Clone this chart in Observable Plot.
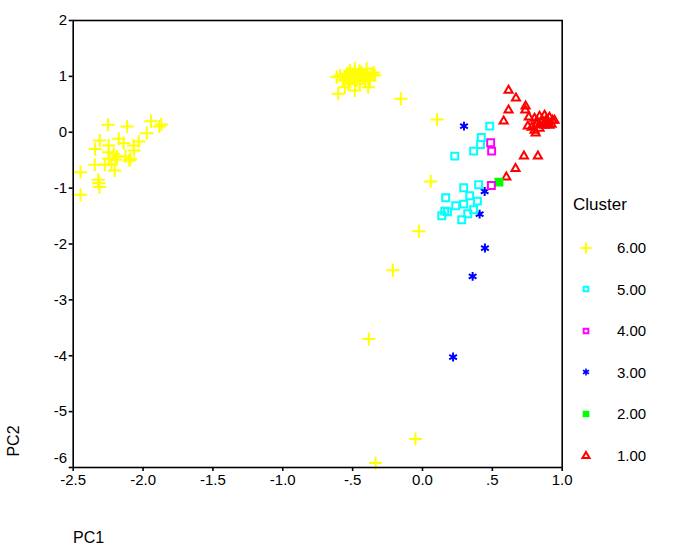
<!DOCTYPE html>
<html><head><meta charset="utf-8">
<script src="https://cdn.jsdelivr.net/npm/d3@7"></script>
<script src="https://cdn.jsdelivr.net/npm/@observablehq/plot@0.6"></script>
<style>
html,body{margin:0;padding:0;background:#fff;}
body{font-family:"Liberation Sans",Arial,sans-serif;color:#000;}
#wrap{position:relative;width:694px;height:550px;overflow:hidden;}
.lbl{position:absolute;font-size:16px;white-space:nowrap;line-height:1;}
#pc2{left:14px;top:441px;transform:translate(-50%,-50%) rotate(-90deg);}
#pc1{left:73px;top:538px;transform:translate(0,-50%);}
#legtitle{position:absolute;left:573px;top:204px;transform:translate(0,-50%);font-size:17px;line-height:1;}
.legrow{position:absolute;left:578px;height:20px;display:flex;align-items:center;transform:translate(0,-50%);}
.legrow svg{width:16px;height:16px;}
.legrow span{position:absolute;left:39px;font-size:15px;line-height:1;}
</style></head>
<body><div id="wrap"></div>
<script>
// ---- data ----
const clusterNames = ["6.00","5.00","4.00","3.00","2.00","1.00"];
const clusterColors = ["#ffff00","#00ffff","#ff00ff","#0000ff","#00ff00","#ff0000"];
const clusterSymbols = ["plus","square","square","asterisk","square","triangle"];

const c6x = [-2.25,-2.114,-1.943,-1.869,-1.884,-1.974,-2.174,-2.31,-2.031,-2.139,-2.246,-2.067,-2.343,-2.064,-2.246,-2.21,-2.186,-2.126,-2.246,-2.091,-2.198,-2.098,-2.346,-2.274,-2.226,-2.203,-2.448,-2.321,-2.317,-2.312,-2.448,
  -0.59,-0.614,-0.519,-0.484,-0.46,-0.4,-0.364,-0.341,-0.412,-0.448,-0.519,-0.555,-0.484,-0.603,-0.389,-0.555,-0.496,-0.436,-0.424,-0.471,-0.507,-0.376,-0.531,-0.448,-0.4,
  -0.47,-0.43,-0.5,-0.54,-0.38,-0.45,-0.52,-0.41,-0.35,-0.57,
  -0.155,0.104,0.059,-0.026,-0.212,-0.384,-0.05,-0.336];
const c6y = [0.134,0.104,0.199,0.140,0.104,-0.016,-0.116,-0.147,-0.165,-0.195,-0.236,-0.236,-0.302,-0.326,-0.356,-0.385,-0.433,-0.433,-0.474,-0.474,-0.492,-0.504,-0.581,-0.581,-0.576,-0.683,-0.714,-0.850,-0.911,-0.982,-1.118,
  1.016,0.986,1.106,1.136,1.016,1.136,1.046,1.016,0.927,0.867,0.927,0.807,0.748,0.689,0.807,0.986,1.016,1.075,0.986,0.927,1.046,0.927,0.867,0.957,1.016,
  1.0,1.03,0.96,1.05,0.98,1.1,0.9,0.95,1.07,0.93,
  0.60,0.229,-0.88,-1.77,-2.47,-3.70,-5.49,-5.92];

const c5x = [0.481,0.421,0.416,0.366,0.231,0.402,0.295,0.166,0.338,0.393,0.238,0.295,0.179,0.138,0.324,0.366,0.281,0.159];
const c5y = [0.109,-0.093,-0.218,-0.338,-0.428,-0.94,-0.993,-1.172,-1.136,-1.233,-1.315,-1.286,-1.422,-1.494,-1.458,-1.386,-1.565,-1.411];

const c4x = [0.488,0.495,0.493];
const c4y = [-0.188,-0.338,-0.952];

const c3x = [0.297,0.445,0.409,0.447,0.359,0.219];
const c3y = [0.109,-1.059,-1.465,-2.073,-2.58,-4.023];

const c2x = [0.547];
const c2y = [-0.893];

const c1x = [0.616,0.669,0.738,0.616,0.736,0.581,0.761,0.754,0.81,0.726,0.826,0.666,0.6,
  0.802,0.838,0.874,0.909,0.931,0.895,0.852,0.816,0.781,0.874,0.909,0.945,0.838,0.802,0.888,0.924,0.86,0.82,0.9,0.84];
const c1y = [0.748,0.61,0.467,0.395,0.395,0.199,0.27,0.109,-0.016,-0.428,-0.428,-0.653,-0.803,
  0.247,0.283,0.301,0.265,0.211,0.193,0.175,0.14,0.086,0.122,0.122,0.211,0.068,0.032,0.229,0.14,0.2,0.2,0.16,0.13];

const xTicks = [-2.5,-2.0,-1.5,-1.0,-0.5,0.0,0.5,1.0];
const xTickLabels = ["-2.5","-2.0","-1.5","-1.0","-.5","0.0",".5","1.0"];
const yTicks = [2,1,0,-1,-2,-3,-4,-5,-6];
const yTickLabels = ["2","1","0","-1","-2","-3","-4","-5","-6"];

// ---- build ----
const seriesX = [c6x,c5x,c4x,c3x,c2x,c1x];
const seriesY = [c6y,c5y,c4y,c3y,c2y,c1y];
const rOf = {plus:4.3, square:3.9, asterisk:4.2, triangle:3.0};

const dotMarks = [];
for (let k = clusterNames.length - 1; k >= 0; k--) {
  const rows = seriesX[k].map((x, i) => ({pc1: x, pc2: seriesY[k][i]}));
  const sym = clusterSymbols[k];
  dotMarks.push(Plot.dot(rows, {
    x: "pc1", y: "pc2", symbol: sym, r: rOf[sym],
    stroke: clusterColors[k], strokeWidth: 2,
    fill: clusterNames[k] === "2.00" ? clusterColors[k] : "none"
  }));
}

const yMain = yTicks.filter(t => t !== -6);
const yLow = [-6];
const yFmt = d => yTickLabels[yTicks.indexOf(d)];

const chart = Plot.plot({
  width: 694, height: 550,
  marginLeft: 72.7, marginRight: 132.3, marginTop: 20, marginBottom: 83,
  style: {fontFamily: "'Liberation Sans', Arial, sans-serif", fontSize: "15px", color: "#000", background: "#fff"},
  x: {domain: [-2.5, 1.0]},
  y: {domain: [-6, 2]},
  marks: [
    ...dotMarks,
    Plot.frame({stroke: "#000", strokeWidth: 1.6}),
    Plot.axisX({ticks: xTicks, tickFormat: d => xTickLabels[xTicks.indexOf(d)], tickSize: 4, tickPadding: 3, stroke: "#000", strokeWidth: 1.6, label: null, fontSize: 15}),
    Plot.axisY({ticks: yTicks, tickFormat: d => (d === -6 ? "" : yFmt(d)), tickSize: 4, tickPadding: 2, stroke: "#000", strokeWidth: 1.6, label: null, fontSize: 15}),
    Plot.axisY({ticks: yLow, tickFormat: yFmt, tickSize: 0, tickPadding: 6, dy: -9, label: null, fontSize: 15})
  ]
});

const wrap = document.getElementById("wrap");
wrap.appendChild(chart);

const pc2 = document.createElement("div"); pc2.className = "lbl"; pc2.id = "pc2"; pc2.textContent = "PC2"; wrap.appendChild(pc2);
const pc1 = document.createElement("div"); pc1.className = "lbl"; pc1.id = "pc1"; pc1.textContent = "PC1"; wrap.appendChild(pc1);

const lt = document.createElement("div"); lt.id = "legtitle"; lt.textContent = "Cluster"; wrap.appendChild(lt);
const symType = {plus: d3.symbolPlus, square: d3.symbolSquare, asterisk: d3.symbolAsterisk, triangle: d3.symbolTriangle};
const symSize = {plus: 40, square: 22, asterisk: 34, triangle: 22};
const legY0 = 247.5, legStep = 41.6;
clusterNames.forEach((name, k) => {
  const row = document.createElement("div");
  row.className = "legrow";
  row.style.top = (legY0 + k * legStep) + "px";
  const sym = clusterSymbols[k];
  const svg = d3.create("svg").attr("viewBox", "-8 -8 16 16");
  svg.append("path")
    .attr("d", d3.symbol(symType[sym], symSize[sym])())
    .attr("fill", name === "2.00" ? clusterColors[k] : "none")
    .attr("stroke", clusterColors[k]).attr("stroke-width", sym === "asterisk" ? 1.6 : 2);
  row.appendChild(svg.node());
  const sp = document.createElement("span"); sp.textContent = name; row.appendChild(sp);
  wrap.appendChild(row);
});
</script>
</body></html>
